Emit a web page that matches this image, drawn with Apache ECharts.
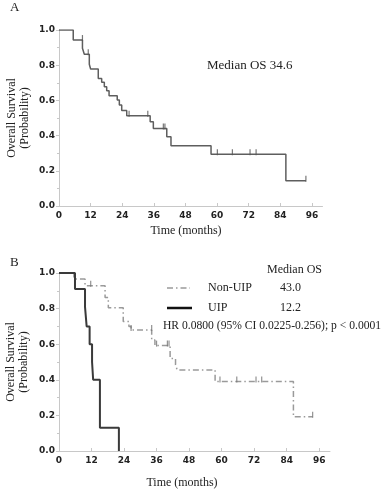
<!DOCTYPE html>
<html>
<head>
<meta charset="utf-8">
<script src="https://cdn.jsdelivr.net/npm/echarts@6/dist/echarts.min.js"></script>
<style>
  html, body { margin: 0; padding: 0; background: #fff; }
  #chart { width: 388px; height: 489px; }
</style>
</head>
<body>
<div id="chart"></div>
<script>
// panel A: all patients, Kaplan-Meier steps (months, survival after event)
const timesA = [0, 5.4, 8.9, 9.6, 11.5, 12.0, 14.9, 16.2, 17.2, 18.1, 19.0, 22.1, 22.9, 23.8, 25.7, 34.6, 35.8, 40.9, 42.5, 57.7, 86.1, 93.7];
const survA  = [1.0, 0.943, 0.896, 0.862, 0.805, 0.778, 0.725, 0.703, 0.678, 0.655, 0.627, 0.602, 0.574, 0.542, 0.513, 0.479, 0.441, 0.394, 0.343, 0.294, 0.144, 0.144];
const censorTimesA = [8.9, 11.1, 26.6, 33.7, 39.6, 40.2, 60.1, 65.8, 72.5, 74.8, 93.7];
const censorSurvA  = [0.943, 0.862, 0.513, 0.513, 0.441, 0.441, 0.294, 0.294, 0.294, 0.294, 0.144];

// panel B: Non-UIP
const timesNon = [0, 5.5, 9.6, 17.0, 18.2, 23.7, 25.8, 26.6, 34.2, 35.4, 41.0, 43.0, 43.6, 57.6, 86.5, 93.6];
const survNon  = [1.0, 0.966, 0.929, 0.863, 0.805, 0.727, 0.70, 0.68, 0.624, 0.592, 0.52, 0.485, 0.455, 0.39, 0.193, 0.193];
const censorTimesNon = [11.7, 26.6, 34.2, 36.0, 40.0, 40.6, 59.4, 65.6, 72.7, 74.8, 93.6];
const censorSurvNon  = [0.929, 0.68, 0.68, 0.592, 0.592, 0.592, 0.39, 0.39, 0.39, 0.39, 0.193];

// panel B: UIP
const timesUip = [0, 5.9, 9.6, 10.2, 11.3, 12.2, 12.6, 15.1, 22.1];
const survUip  = [1.0, 0.91, 0.81, 0.70, 0.60, 0.50, 0.40, 0.13, 0];

const xTicks = [0, 12, 24, 36, 48, 60, 72, 84, 96];
const yTicks = [0.0, 0.2, 0.4, 0.6, 0.8, 1.0];

const medianA = '34.6';
const medianNon = '43.0';
const medianUip = '12.2';
const hrText = 'HR 0.0800 (95% CI 0.0225-0.256); p < 0.0001';

const zip = (xs, ys) => xs.map((x, i) => [x, ys[i]]);

const chart = echarts.init(document.getElementById('chart'));

const serif = '"Liberation Serif", "DejaVu Serif", serif';
const tickFont = { fontFamily: '"DejaVu Sans", Verdana, sans-serif', fontWeight: 'bold', fontSize: 9, color: '#222' };
const axisGray = '#c8c8c8';

const xAxisFor = (idx) => ({
  type: 'value', gridIndex: idx, min: 0, max: 100, interval: 12,
  axisLine: { show: true, lineStyle: { color: axisGray, width: 1 } },
  axisTick: { show: true, inside: true, length: 3, lineStyle: { color: axisGray } },
  axisLabel: Object.assign({ margin: 5, showMaxLabel: false,
    formatter: (v) => (xTicks.indexOf(v) >= 0 ? String(v) : '') }, tickFont),
  splitLine: { show: false }
});
const yAxisFor = (idx) => ({
  type: 'value', gridIndex: idx, min: 0, max: 1, interval: 0.2,
  axisLine: { show: true, lineStyle: { color: axisGray, width: 1 } },
  axisTick: { show: true, length: 3, lineStyle: { color: axisGray } },
  minorTick: { show: true, splitNumber: 2, length: 2, lineStyle: { color: axisGray } },
  axisLabel: Object.assign({ margin: 4,
    formatter: (v) => yTicks.some(t => Math.abs(t - v) < 1e-6) ? v.toFixed(1) : '' }, tickFont),
  splitLine: { show: false }
});

const censorSeries = (idx, data, color) => ({
  type: 'scatter', xAxisIndex: idx, yAxisIndex: idx,
  data: data, symbol: 'rect', symbolSize: [1.2, 6], symbolOffset: [0, -2],
  itemStyle: { color: color }, silent: true, z: 3
});

const txt = (x, y, text, extra) => ({
  type: 'text', x: x, y: y,
  style: Object.assign({ text: text, font: '12px ' + serif, fill: '#222', textVerticalAlign: 'middle' }, extra || {})
});

chart.setOption({
  animation: false,
  backgroundColor: '#fff',
  grid: [
    { left: 59, top: 30, width: 263.5, height: 176 },
    { left: 59, top: 273, width: 271, height: 178 }
  ],
  xAxis: [xAxisFor(0), xAxisFor(1)],
  yAxis: [yAxisFor(0), yAxisFor(1)],
  series: [
    {
      type: 'line', step: 'end', xAxisIndex: 0, yAxisIndex: 0,
      data: zip(timesA, survA), showSymbol: false,
      lineStyle: { color: '#5e5e5e', width: 1.5 }
    },
    censorSeries(0, zip(censorTimesA, censorSurvA), '#555'),
    {
      type: 'line', step: 'end', xAxisIndex: 1, yAxisIndex: 1,
      data: zip(timesNon, survNon), showSymbol: false,
      lineStyle: { color: '#9a9a9a', width: 1.5, type: [6, 3, 1.5, 3] }
    },
    censorSeries(1, zip(censorTimesNon, censorSurvNon), '#777'),
    {
      type: 'line', step: 'end', xAxisIndex: 1, yAxisIndex: 1,
      data: zip(timesUip, survUip), showSymbol: false,
      lineStyle: { color: '#3a3a3a', width: 2 }
    }
  ],
  graphic: [
    txt(10, 8, 'A', { font: '13px ' + serif }),
    txt(10, 263, 'B', { font: '13px ' + serif }),
    {
      type: 'text', x: 18, y: 118, rotation: Math.PI / 2,
      style: { text: 'Overall Survival\n(Probability)', font: '12px ' + serif, fill: '#222',
        textAlign: 'center', textVerticalAlign: 'middle', lineHeight: 13 }
    },
    {
      type: 'text', x: 17, y: 362, rotation: Math.PI / 2,
      style: { text: 'Overall Survival\n(Probability)', font: '12px ' + serif, fill: '#222',
        textAlign: 'center', textVerticalAlign: 'middle', lineHeight: 13 }
    },
    txt(186, 231, 'Time (months)', { textAlign: 'center' }),
    txt(182, 483, 'Time (months)', { textAlign: 'center' }),
    txt(207, 66, 'Median OS ' + medianA, { font: '13px ' + serif }),
    // legend for panel B
    txt(267, 270, 'Median OS'),
    {
      type: 'line', shape: { x1: 167, y1: 288, x2: 190, y2: 288 },
      style: { stroke: '#9a9a9a', lineWidth: 1.5, lineDash: [6, 3, 1.5, 3] }
    },
    txt(208, 288, 'Non-UIP'),
    txt(280, 288, medianNon),
    {
      type: 'line', shape: { x1: 167, y1: 308, x2: 192, y2: 308 },
      style: { stroke: '#111', lineWidth: 2.5 }
    },
    txt(208, 308, 'UIP'),
    txt(280, 308, medianUip),
    txt(163, 326, hrText, { font: '11.6px ' + serif })
  ]
});
</script>
</body>
</html>
